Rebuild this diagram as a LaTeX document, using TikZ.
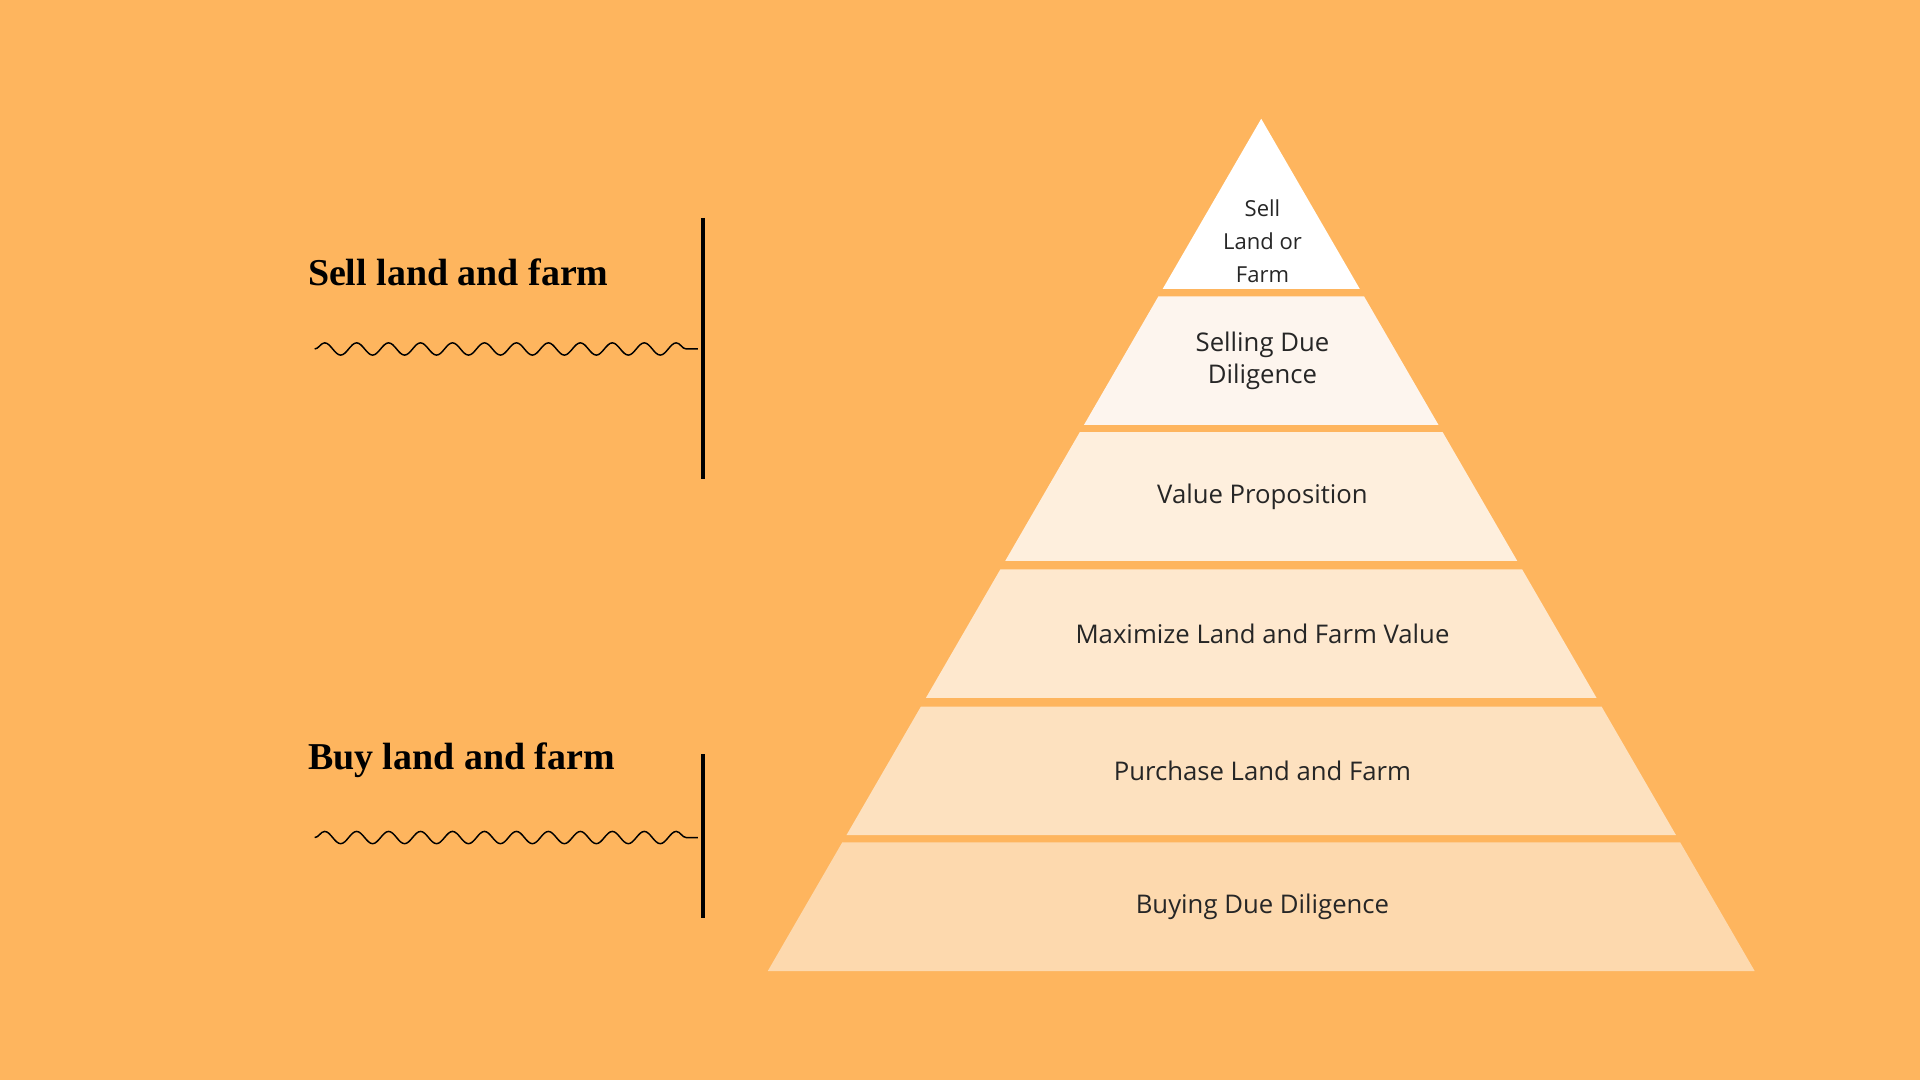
\documentclass[tikz,border=0pt]{standalone}
\usepackage{fontspec}
\setmainfont{Open Sans}
\newfontfamily\headfont{Liberation Serif}
\usetikzlibrary{decorations.pathmorphing}
\definecolor{bgorange}{RGB}{254,181,94}
\definecolor{layerA}{RGB}{255,255,255}
\definecolor{layerB}{RGB}{253,245,238}
\definecolor{layerC}{RGB}{254,239,221}
\definecolor{layerD}{RGB}{254,232,206}
\definecolor{layerE}{RGB}{253,225,191}
\definecolor{layerF}{RGB}{253,217,174}
\begin{document}
\begin{tikzpicture}[x=1pt,y=-1pt]
\tikzstyle{label}=[font=\fontsize{21}{26}\selectfont,text=black!85,align=center]
\tikzstyle{heading}=[font=\headfont\bfseries\fontsize{31}{36}\selectfont,anchor=west]
\tikzstyle{wave}=[decorate,decoration={snake,segment length=26.1pt,amplitude=5pt},line width=1.2pt]
\tikzstyle{bar}=[line width=3.5pt]

\fill[bgorange] (0,0) rectangle (1568,882);
\useasboundingbox (0,0) rectangle (1568,882);

% top of the pyramid
\fill[layerA] (1030,97) -- (1110.5,236) -- (949.5,236) -- cycle;
\node[label,font=\fontsize{18}{27}\selectfont] (sell) at (1031,197) {Sell\\Land or\\Farm};

% layers
\foreach \ya/\yb/\col/\name in {242/347/layerB/due, 353/458/layerC/value, 465/570/layerD/maxim, 577/682/layerE/purch, 688/793/layerF/buy}
{
  \pgfmathsetmacro{\da}{0.579*(\ya-97)}
  \pgfmathsetmacro{\db}{0.579*(\yb-97)}
  \fill[\col] (1030-\da,\ya) -- (1030+\da,\ya) -- (1030+\db,\yb) -- (1030-\db,\yb) -- cycle;
  \coordinate (\name) at (1031,{(\ya+\yb)/2});
}

\node[label] (ldue) at (due) {Selling Due\\Diligence};
\node[label] (lvalue) at (value) {Value Proposition};
\node[label] (lmaxim) at (maxim) {Maximize Land and Farm Value};
\node[label] (lpurch) at (purch) {Purchase Land and Farm};
\node[label] (lbuy) at (buy) {Buying Due Diligence};

% left side
\node[heading] (hsell) at (248,222) {Sell land and farm};
\node[heading] (hbuy) at (248,621) {Buy land and farm};

\coordinate (wsa) at (257,285);
\coordinate (wsb) at (570,285);
\coordinate (wba) at (257,684);
\coordinate (wbb) at (570,684);
\draw[wave] (wsa) -- (wsb);
\draw[wave] (wba) -- (wbb);

\coordinate (bsa) at (574,178);
\coordinate (bsb) at (574,391);
\coordinate (bba) at (574,616);
\coordinate (bbb) at (574,750);
\draw[bar] (bsa) -- (bsb);
\draw[bar] (bba) -- (bbb);

\end{tikzpicture}
\end{document}
